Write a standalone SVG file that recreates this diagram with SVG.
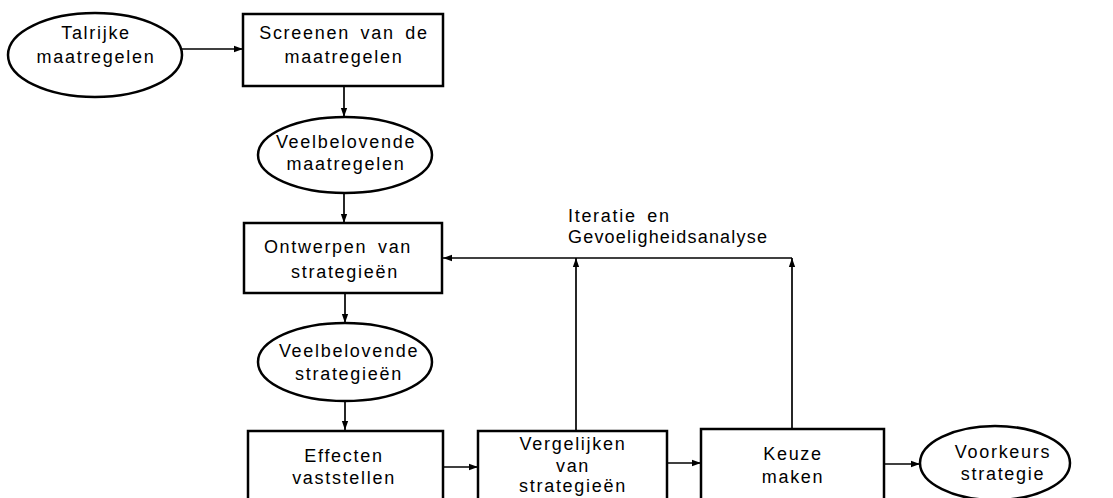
<svg xmlns="http://www.w3.org/2000/svg" width="1113" height="498" viewBox="0 0 1113 498">
<defs>
<style>
.n{fill:#fff;stroke:#000;stroke-width:2.5}
.c{fill:none;stroke:#000;stroke-width:1.7}
text{font-family:"Liberation Sans",Arial,sans-serif;font-size:18px;letter-spacing:1.7px;word-spacing:4px;fill:#000;text-anchor:middle}
</style>
<marker id="a" viewBox="0 0 10 10" refX="10" refY="5" markerWidth="11" markerHeight="9" markerUnits="userSpaceOnUse" orient="auto">
<path d="M0,1.5 L10,5 L0,8.5 z" fill="#000"/>
</marker>
</defs>
<rect width="1113" height="498" fill="#fff"/>
<g id="connectors">
<line class="c" x1="182" y1="49" x2="243" y2="49" marker-end="url(#a)"/>
<line class="c" x1="344" y1="86" x2="344" y2="117" marker-end="url(#a)"/>
<line class="c" x1="344" y1="193" x2="344" y2="223" marker-end="url(#a)"/>
<line class="c" x1="345" y1="293" x2="345" y2="323" marker-end="url(#a)"/>
<line class="c" x1="345" y1="401" x2="345" y2="430" marker-end="url(#a)"/>
<line class="c" x1="443" y1="467" x2="478" y2="467" marker-end="url(#a)"/>
<line class="c" x1="667" y1="463" x2="701" y2="463" marker-end="url(#a)"/>
<line class="c" x1="884" y1="464" x2="920" y2="464" marker-end="url(#a)"/>
<line class="c" x1="576" y1="431" x2="576" y2="258" marker-end="url(#a)"/>
<line class="c" x1="792" y1="429" x2="792" y2="258" marker-end="url(#a)"/>
<line class="c" x1="792" y1="258" x2="443" y2="258" marker-end="url(#a)"/>
<text x="568" y="222" style="text-anchor:start">Iteratie en</text>
<text x="568" y="243" style="text-anchor:start;letter-spacing:1.2px">Gevoeligheidsanalyse</text>
</g>
<g id="talrijke">
<ellipse class="n" cx="95" cy="55" rx="87" ry="42"/>
<text x="96" y="39">Talrijke</text>
<text x="96" y="63">maatregelen</text>
</g>
<g id="screenen">
<rect class="n" x="243" y="14" width="200" height="72"/>
<text x="344" y="39">Screenen van de</text>
<text x="344" y="63">maatregelen</text>
</g>
<g id="veelbelovende-maatregelen">
<ellipse class="n" cx="345" cy="155" rx="87" ry="38"/>
<text x="346" y="148">Veelbelovende</text>
<text x="346" y="170">maatregelen</text>
</g>
<g id="ontwerpen">
<rect class="n" x="244" y="223" width="198" height="70"/>
<text x="338" y="253">Ontwerpen van</text>
<text x="345" y="278">strategieën</text>
</g>
<g id="veelbelovende-strategieen">
<ellipse class="n" cx="345" cy="362" rx="87" ry="39"/>
<text x="349" y="357">Veelbelovende</text>
<text x="349" y="380">strategieën</text>
</g>
<g id="effecten">
<rect class="n" x="248" y="431" width="195" height="80"/>
<text x="344" y="462">Effecten</text>
<text x="344" y="484">vaststellen</text>
</g>
<g id="vergelijken">
<rect class="n" x="478" y="431" width="189" height="80"/>
<text x="573" y="450">Vergelijken</text>
<text x="573" y="472">van</text>
<text x="573" y="492">strategieën</text>
</g>
<g id="keuze">
<rect class="n" x="701" y="429" width="183" height="82"/>
<text x="793" y="460">Keuze</text>
<text x="793" y="483">maken</text>
</g>
<g id="voorkeurs">
<ellipse class="n" cx="995" cy="463" rx="75" ry="37"/>
<text x="1003" y="458">Voorkeurs</text>
<text x="1003" y="480">strategie</text>
</g>
</svg>
